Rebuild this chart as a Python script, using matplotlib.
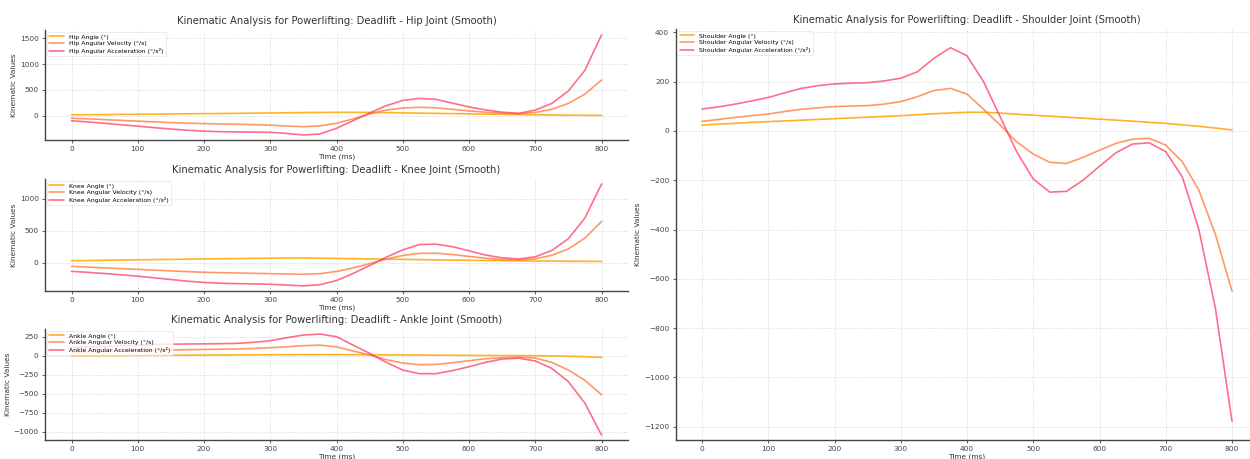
import matplotlib
matplotlib.use("Agg")
import matplotlib.pyplot as plt
from matplotlib.ticker import MultipleLocator

time_ms = list(range(0, 801, 25))

hip_angle = [20, 22, 24, 27, 30, 33, 36, 39, 42, 45, 48, 51, 55, 59, 63, 66, 68, 68, 66, 62, 57, 52, 47, 42, 37, 32, 28, 24, 20, 16, 13, 10, 8]
hip_velocity = [-45, -58, -72, -88, -103, -117, -130, -141, -150, -157, -163, -170, -180, -197, -210, -195, -142, -60, 35, 112, 150, 165, 155, 125, 95, 70, 50, 40, 65, 125, 240, 420, 690]
hip_accel = [-95, -118, -145, -172, -200, -228, -255, -278, -296, -306, -311, -314, -318, -340, -370, -350, -240, -95, 55, 195, 297, 337, 318, 245, 172, 114, 70, 48, 110, 240, 480, 880, 1560]

knee_angle = [30, 33, 37, 41, 45, 48, 51, 55, 58, 61, 64, 67, 70, 72, 72, 70, 66, 62, 58, 55, 52, 48, 44, 40, 37, 34, 31, 28, 26, 24, 22, 21, 20]
knee_velocity = [-58, -70, -82, -94, -105, -117, -129, -140, -150, -157, -162, -167, -172, -178, -182, -172, -138, -82, -15, 55, 112, 145, 148, 128, 97, 70, 50, 42, 60, 115, 215, 385, 645]
knee_accel = [-136, -152, -170, -190, -212, -238, -264, -290, -310, -322, -328, -333, -338, -350, -364, -345, -280, -170, -45, 85, 200, 283, 290, 250, 185, 120, 75, 58, 92, 190, 375, 700, 1230]

ankle_angle = [0, 1, 2, 3, 4, 5, 6, 7, 8, 9, 10, 11, 12, 13, 14, 14, 14, 13, 12, 11, 10, 9, 7, 6, 4, 3, 2, 1, 0, -3, -7, -13, -22]
ankle_velocity = [45, 50, 55, 60, 65, 70, 75, 79, 82, 85, 88, 95, 105, 118, 132, 139, 115, 62, 9, -53, -96, -118, -115, -93, -66, -40, -26, -19, -31, -88, -189, -325, -513]
ankle_accel = [110, 116, 123, 131, 139, 146, 151, 154, 156, 158, 162, 176, 197, 237, 272, 285, 250, 140, 31, -88, -189, -237, -237, -197, -145, -88, -44, -33, -70, -167, -342, -627, -1044]

shoulder_angle = [24, 28, 31, 35, 38, 41, 44, 47, 50, 53, 56, 59, 62, 66, 70, 73, 76, 76, 73, 68, 64, 60, 56, 52, 48, 44, 40, 35, 31, 25, 19, 12, 4]
shoulder_velocity = [39, 47, 55, 62, 69, 79, 88, 94, 99, 101, 103, 109, 119, 139, 164, 173, 150, 88, 24, -44, -94, -127, -132, -107, -78, -50, -33, -30, -57, -125, -240, -420, -650]
shoulder_accel = [89, 98, 109, 122, 136, 155, 173, 184, 191, 194, 196, 203, 214, 240, 295, 338, 305, 200, 58, -84, -195, -248, -245, -200, -143, -88, -53, -48, -84, -186, -400, -720, -1178]

joints = ["Hip", "Knee", "Ankle", "Shoulder"]
series = {
    "Hip": (hip_angle, hip_velocity, hip_accel),
    "Knee": (knee_angle, knee_velocity, knee_accel),
    "Ankle": (ankle_angle, ankle_velocity, ankle_accel),
    "Shoulder": (shoulder_angle, shoulder_velocity, shoulder_accel),
}
y_steps = {"Hip": 500, "Knee": 500, "Ankle": 250, "Shoulder": 200}

colors = ["#FFA500", "#FF7F3F", "#FF3D62"]
W, H = 1250, 459
fig = plt.figure(figsize=(W / 100, H / 100), dpi=100)

def rect(x0, y0, x1, y1):
    return [x0 / W, 1 - y1 / H, (x1 - x0) / W, (y1 - y0) / H]

positions = {
    "Hip": rect(45, 30, 628, 140),
    "Knee": rect(45, 179, 628, 291),
    "Ankle": rect(45, 329, 628, 440),
    "Shoulder": rect(675.5, 29, 1258.5, 440),
}

for j in joints:
    ax = fig.add_axes(positions[j])
    a, v, acc = series[j]
    kw = dict(lw=1.2, solid_joinstyle="round", solid_capstyle="round")
    ax.plot(time_ms, a, color=colors[0], alpha=0.85, label=f"{j} Angle (°)", **kw)
    ax.plot(time_ms, v, color=colors[1], alpha=0.8, label=f"{j} Angular Velocity (°/s)", **kw)
    ax.plot(time_ms, acc, color=colors[2], alpha=0.75, label=f"{j} Angular Acceleration (°/s²)", **kw)
    ax.set_title(f"Kinematic Analysis for Powerlifting: Deadlift - {j} Joint (Smooth)",
                 fontsize=7.2, color="#333333", pad=4)
    ax.set_xlabel("Time (ms)", fontsize=5.3, color="#333333", labelpad=1)
    ax.set_ylabel("Kinematic Values", fontsize=5.3, color="#333333", labelpad=2)
    ax.set_xticks(range(0, 801, 100))
    ax.yaxis.set_major_locator(MultipleLocator(y_steps[j]))
    ax.tick_params(labelsize=5.3, colors="#444444", length=2.5, width=0.6, pad=2)
    for s in ["top", "right"]:
        ax.spines[s].set_visible(False)
    for s in ["left", "bottom"]:
        ax.spines[s].set_color("#444444")
        ax.spines[s].set_linewidth(1.0)
    ax.grid(True, linestyle=":", color="#cccccc", linewidth=0.6)
    ax.set_axisbelow(True)
    leg = ax.legend(loc="upper left", fontsize=4.4, frameon=True, handlelength=2.4,
                    borderaxespad=0.3, labelspacing=0.25, borderpad=0.4)
    leg.get_frame().set_edgecolor("#dddddd")
    leg.get_frame().set_linewidth(0.5)

fig.savefig("out.png", dpi=100)
